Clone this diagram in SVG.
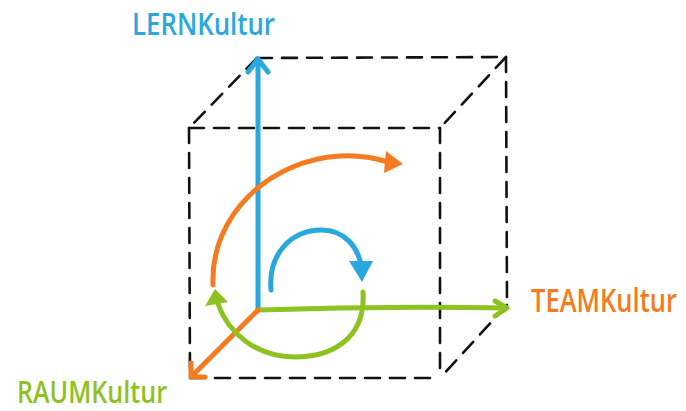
<svg xmlns="http://www.w3.org/2000/svg" width="686" height="411" viewBox="0 0 686 411">
<style>
.dash{stroke:#111;stroke-width:2.6;fill:none;stroke-dasharray:15 10;stroke-linecap:round}
.ln{fill:none;stroke-width:5;stroke-linecap:round;stroke-linejoin:round}
.b{stroke:#29A8E0}.o{stroke:#F47B20}.g{stroke:#8DC21F}
.fb{fill:#29A8E0}.fo{fill:#F47B20}.fg{fill:#8DC21F}
.lbl{font-family:"Open Sans","Liberation Sans",sans-serif;font-weight:600}
</style>
<rect width="686" height="411" fill="#fff"/>
<g id="cube">
<path class="dash" d="M189,128 L440,128"/>
<path class="dash" d="M189,128 L190,378"/>
<path class="dash" d="M190,378 L440,378"/>
<path class="dash" d="M440,128 L440,378"/>
<path class="dash" d="M257,58 L506,57"/>
<path class="dash" d="M506,57 L507,305"/>
<path class="dash" d="M257,58 L189,128"/>
<path class="dash" d="M506,57 L440,128"/>
<path class="dash" d="M507,305 L440,378"/>
</g>
<g id="connectors">
<path class="ln b" d="M258,310 L258,60"/>
<path class="ln b" d="M248,72 L258,59 L268,72"/>
<path class="ln g" d="M258,310 Q380,306 506,308"/>
<path class="ln g" d="M495,301 L507,308 L495,316"/>
<path class="ln o" d="M258,310 L192,376" stroke-width="4"/>
<path class="ln o" d="M191,363 L191,377 L205,377" stroke-width="4"/>
<path class="ln o" d="M213,285 C210,215 270,160 340,156 C360,155 375,158 388,162"/>
<path class="fo" d="M403,164 L386,151 L384,173 Z"/>
<path class="ln b" d="M271,290 C268,255 290,230 322,230 C345,230 358,248 361,265"/>
<path class="fb" d="M362,282 L349,261 L373,261 Z"/>
<path class="ln g" d="M363,292 C366,340 330,357 295,357 C255,357 228,332 218,304"/>
<path class="fg" d="M215,289 L205,306 L228,302 Z"/>
</g>
<g id="lern"><text class="lbl" x="132" y="35" font-size="31" fill="#29A8E0" textLength="143" lengthAdjust="spacingAndGlyphs">LERNKultur</text></g>
<g id="team"><text class="lbl" transform="translate(531,312) scale(1,1.25)" x="0" y="0" font-size="26" fill="#F47B20" textLength="146" lengthAdjust="spacingAndGlyphs">TEAMKultur</text></g>
<g id="raum"><text class="lbl" x="17" y="403" font-size="30" fill="#8DC21F" textLength="150" lengthAdjust="spacingAndGlyphs">RAUMKultur</text></g>
</svg>
